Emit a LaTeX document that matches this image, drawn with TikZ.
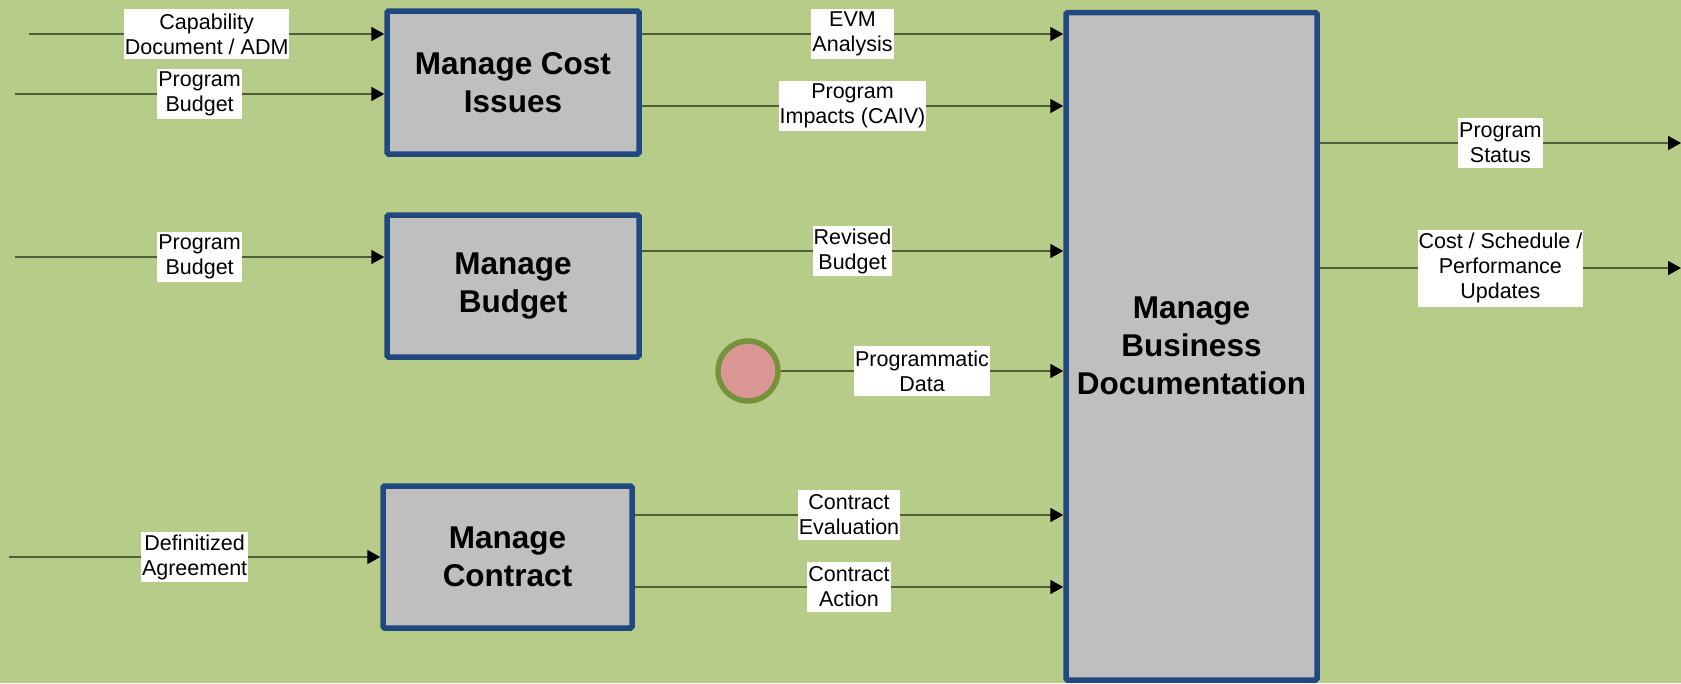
\documentclass[tikz,border=0pt]{standalone}
\usepackage{fontspec}
\setmainfont{Liberation Sans}
\usetikzlibrary{arrows.meta}
\definecolor{bggreen}{RGB}{184,204,137}
\definecolor{boxblue}{RGB}{33,72,128}
\definecolor{boxgrey}{RGB}{191,191,191}
\definecolor{flowline}{RGB}{79,96,52}
\definecolor{dotpink}{RGB}{217,150,148}
\definecolor{dotolive}{RGB}{118,146,60}

\begin{document}
\begin{tikzpicture}[x=1pt,y=-1pt,
  procbox/.style={draw=boxblue,fill=boxgrey,line width=5.5pt,rounded corners=1.5pt,
    align=center,inner sep=0pt,font=\bfseries\fontsize{31.5}{38}\selectfont},
  lbl/.style={fill=white,inner xsep=1pt,inner ysep=0pt,minimum height=50pt,align=center,
    font=\fontsize{21.5}{25}\selectfont},
  flow/.style={draw=flowline,line width=2pt,-{Triangle[length=13pt,width=14pt,color=black]}}]
  \fill[bggreen] (0,0) rectangle (1681,683);
  \useasboundingbox (0,0) rectangle (1681,683);

  \node[procbox,minimum width=252pt,minimum height=143pt] (costbox) at (513,82.5) {Manage Cost\\Issues};
  \node[procbox,minimum width=252pt,minimum height=142pt] (budgetbox) at (513,286) {Manage\\Budget};
  \node[procbox,minimum width=249pt,minimum height=142pt] (contractbox) at (507.5,557) {Manage\\Contract};
  \node[procbox,minimum width=251pt,minimum height=667.5pt] (docbox) at (1191.5,346.25) {Manage\\Business\\Documentation};
  \node[circle,draw=dotolive,fill=dotpink,line width=5.5pt,minimum size=60pt,inner sep=0pt] (srcdot) at (748,371) {};

  \coordinate (capin) at (29,34);
  \coordinate (pbin) at (15,94);
  \coordinate (pbtwoin) at (15,257);
  \coordinate (defin) at (9,557);
  \coordinate (statusout) at (1681,143);
  \coordinate (cspout) at (1681,268);

  \draw[flow] (capin) -- (capin -| costbox.west) node[lbl,midway] {Capability\\Document / ADM};
  \draw[flow] (pbin) -- (pbin -| costbox.west) node[lbl,midway] {Program\\Budget};
  \draw[flow] (pbtwoin) -- (pbtwoin -| budgetbox.west) node[lbl,midway] {Program\\Budget};
  \draw[flow] (defin) -- (defin -| contractbox.west) node[lbl,midway] {Definitized\\Agreement};

  \draw[flow] (costbox.east |- 0,34) -- (docbox.west |- 0,34) node[lbl,midway] {EVM\\Analysis};
  \draw[flow] (costbox.east |- 0,106) -- (docbox.west |- 0,106) node[lbl,midway] {Program\\Impacts (CAIV)};
  \draw[flow] (budgetbox.east |- 0,251) -- (docbox.west |- 0,251) node[lbl,midway] {Revised\\Budget};
  \draw[flow] (srcdot.east) -- (srcdot.east -| docbox.west) node[lbl,midway] {Programmatic\\Data};
  \draw[flow] (contractbox.east |- 0,515) -- (docbox.west |- 0,515) node[lbl,midway] {Contract\\Evaluation};
  \draw[flow] (contractbox.east |- 0,587) -- (docbox.west |- 0,587) node[lbl,midway] {Contract\\Action};

  \draw[flow] (docbox.east |- statusout) -- (statusout) node[lbl,midway] {Program\\Status};
  \draw[flow] (docbox.east |- cspout) -- (cspout) node[lbl,midway,minimum height=77pt] {Cost / Schedule /\\Performance\\Updates};
\end{tikzpicture}
\end{document}
